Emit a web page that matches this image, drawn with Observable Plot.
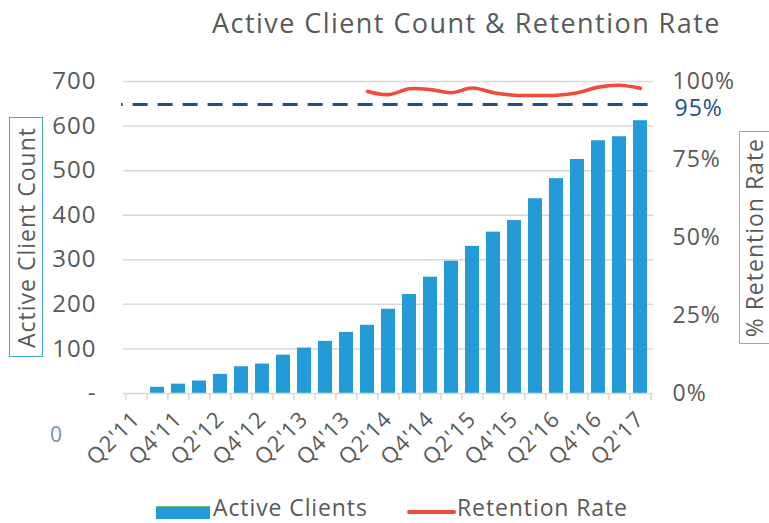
<!DOCTYPE html>
<html><head><meta charset="utf-8">
<script src="https://cdn.jsdelivr.net/npm/d3@7"></script>
<script src="https://cdn.jsdelivr.net/npm/@observablehq/plot@0.6"></script>
<style>
body{margin:0;background:#fff;}
#wrap{position:relative;width:769px;height:523px;overflow:hidden;font-family:"Open Sans",Lato,sans-serif;color:#595959;background:#fff;}
#title{position:absolute;left:212px;top:7px;font-size:27px;line-height:32px;letter-spacing:1.45px;white-space:nowrap;}
#chart{position:absolute;left:0;top:50px;}
.box{position:absolute;display:flex;align-items:center;justify-content:center;box-sizing:border-box;}
.box span{writing-mode:vertical-rl;transform:rotate(180deg);font-size:23px;letter-spacing:1px;white-space:nowrap;line-height:30px;}
#ytitle{left:9px;top:117px;width:34px;height:240px;border:1.5px solid #41a7e0;}
#y2title{left:739px;top:131px;width:40px;height:213px;border:1.5px solid #f08a80;padding-right:10px;}
#zero{position:absolute;left:50px;top:420px;font-size:21px;color:#7d8ea8;}
#legend{position:absolute;left:0;top:492px;width:769px;height:30px;font-size:23px;letter-spacing:0.9px;}
#legend .sw1{position:absolute;left:156px;top:14px;width:54px;height:12px;background:#229bd7;border-top:1px solid #6bbf72;}
#legend .t1{position:absolute;left:213px;top:0px;line-height:30px;}
#legend .sw2{position:absolute;left:407px;top:18px;width:49px;height:4px;background:#f04c3d;border-radius:2px;}
#legend .t2{position:absolute;left:457px;top:0px;line-height:30px;}
</style></head><body>
<div id="wrap">
  <div id="title">Active Client Count &amp; Retention Rate</div>
  <div id="chart"></div>
  <div id="ytitle" class="box"><span>Active Client Count</span></div>
  <div id="y2title" class="box"><span>% Retention Rate</span></div>
  <div id="zero">0</div>
  <div id="legend">
    <div class="sw1"></div><div class="t1">Active Clients</div>
    <div class="sw2"></div><div class="t2">Retention Rate</div>
  </div>
</div>
<script>
const quarters = ["Q2'11","Q3'11","Q4'11","Q1'12","Q2'12","Q3'12","Q4'12","Q1'13","Q2'13","Q3'13","Q4'13","Q1'14","Q2'14","Q3'14","Q4'14","Q1'15","Q2'15","Q3'15","Q4'15","Q1'16","Q2'16","Q3'16","Q4'16","Q1'17","Q2'17"];
const clients = [null,14,21,28,43,60,66,86,102,117,137,153,189,222,261,297,330,362,388,437,482,525,567,576,612];
const retentionQuarters = ["Q1'14","Q2'14","Q3'14","Q4'14","Q1'15","Q2'15","Q3'15","Q4'15","Q1'16","Q2'16","Q3'16","Q4'16","Q1'17","Q2'17"];
const retention = [96.8,95.8,97.7,97.4,96.4,97.9,96.4,95.6,95.5,95.6,96.4,98.2,98.8,97.8];
const labelQuarters = ["Q2'11","Q4'11","Q2'12","Q4'12","Q2'13","Q4'13","Q2'14","Q4'14","Q2'15","Q4'15","Q2'16","Q4'16","Q2'17"];
const countTicks = [0,100,200,300,400,500,600,700];
const pctTicks = [0,25,50,75,100];
const targetLevel = 92.6;   // position of the dashed target line (% scale)
const targetLabel = "95%";
const countMax = 700;       // 100% on the right axis aligns with 700 on the left

const toCount = p => p / 100 * countMax;
const W = 769, H = 420, mt = 31, mb = 77, ml = 123, mr = 116;
const step = (W - ml - mr) / quarters.length;
const grid = "#d9d9d9";

const bars = quarters.map((q, i) => ({q, v: clients[i]})).filter(d => d.v != null);
const ret = retentionQuarters.map((q, i) => ({q, v: toCount(retention[i])}));

const chart = Plot.plot({
  width: W, height: H, marginTop: mt, marginBottom: mb, marginLeft: ml, marginRight: mr,
  style: {fontFamily: "'Open Sans', Lato, sans-serif", fontSize: "24px", letterSpacing: "1px", color: "#595959", background: "transparent", overflow: "visible"},
  x: {type: "band", domain: quarters, paddingInner: 0.32, paddingOuter: 0.16},
  y: {domain: [0, countMax]},
  marks: [
    Plot.gridY(countTicks.filter(d => d > 0), {stroke: grid, strokeOpacity: 1, strokeWidth: 1.5}),
    Plot.axisY({ticks: countTicks, tickSize: 0, tickPadding: 27, tickFormat: d => d === 0 ? "-" : String(d), label: null, fontSize: 24}),
    Plot.axisY({anchor: "right", ticks: pctTicks.map(toCount), tickSize: 0, tickPadding: 19, tickFormat: d => Math.round(d / countMax * 100) + "%", label: null, fontSize: 23}),
    Plot.barY(bars, {x: "q", y: "v", fill: "#229bd7"}),
    Plot.ruleY([0], {stroke: grid, strokeWidth: 1.5}),
    Plot.axisX({ticks: quarters, tickSize: 7, tickFormat: () => "", dx: -step / 2, stroke: grid, strokeWidth: 1.5, label: null}),
    Plot.axisX({ticks: quarters.slice(-1), tickSize: 7, tickFormat: () => "", dx: step / 2, stroke: grid, strokeWidth: 1.5, label: null}),
    Plot.axisX({ticks: labelQuarters, tickSize: 0, tickRotate: -45, tickPadding: 22, label: null, fontSize: 22}),
    Plot.ruleY([toCount(targetLevel)], {stroke: "#1d4f8b", strokeWidth: 3, strokeDasharray: "15,10", strokeDashoffset: 13.4, insetLeft: -2, insetRight: -4}),
    Plot.text([toCount(targetLevel)], {y: d => d, text: () => targetLabel, frameAnchor: "right", dx: 21, dy: 4, textAnchor: "start", fill: "#1d4f8b", fontSize: 23}),
    Plot.line(ret, {x: "q", y: "v", stroke: "#f04c3d", strokeWidth: 3.6, curve: "catmull-rom"})
  ]
});
document.getElementById("chart").appendChild(chart);
</script>
</body></html>
